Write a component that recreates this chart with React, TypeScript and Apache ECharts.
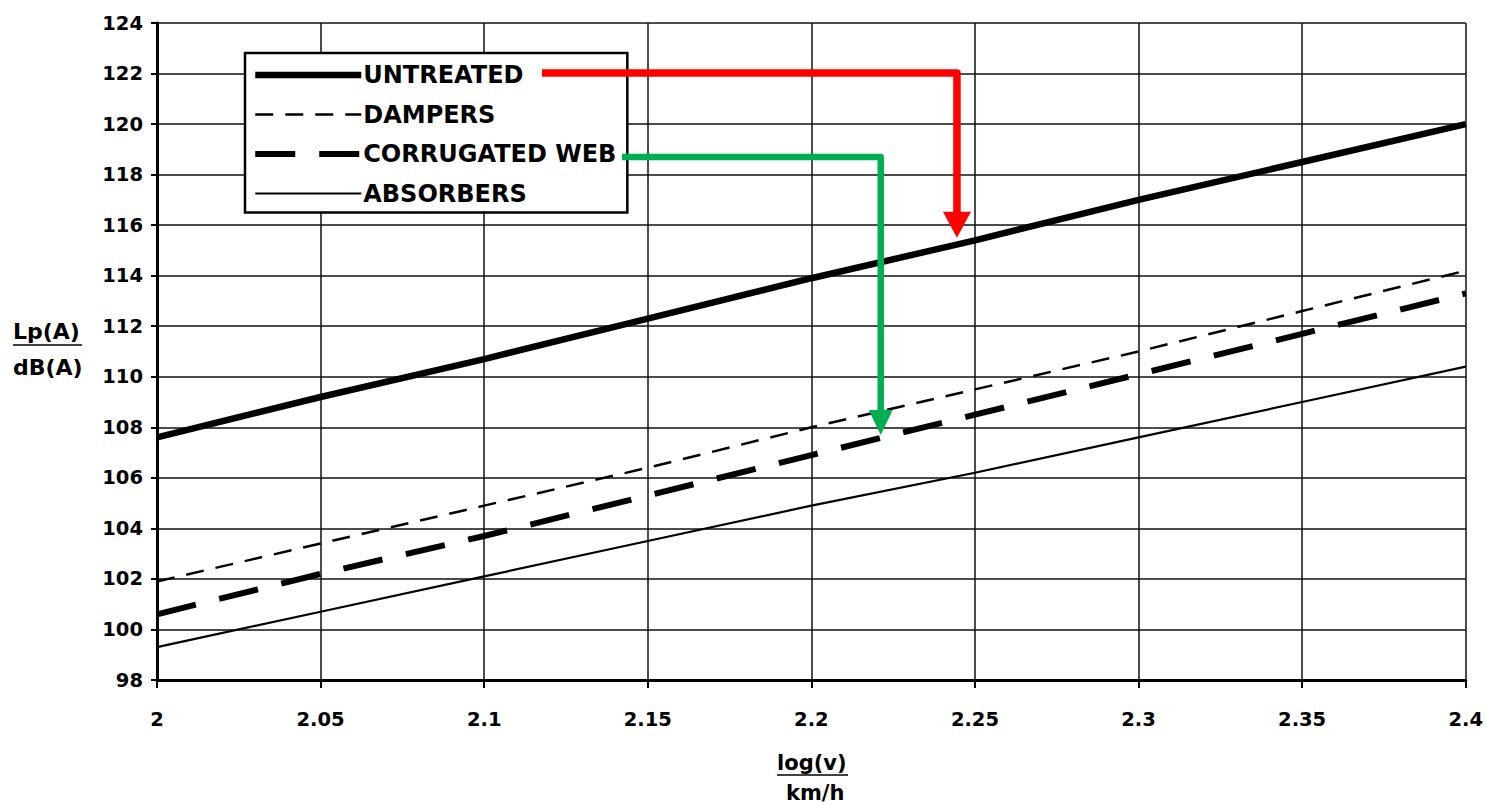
import React, { useEffect, useRef } from "react";
import * as echarts from "echarts";

const X_VALUES = [2, 2.05, 2.1, 2.15, 2.2, 2.25, 2.3, 2.35, 2.4];
const UNTREATED = [107.6, 109.2, 110.7, 112.3, 113.9, 115.4, 117.0, 118.5, 120.0];
const DAMPERS = [101.9, 103.4, 104.9, 106.4, 108.0, 109.5, 111.0, 112.6, 114.2];
const CORRUGATED = [100.6, 102.2, 103.7, 105.3, 106.9, 108.5, 110.1, 111.7, 113.3];
const ABSORBERS = [99.3, 100.7, 102.1, 103.5, 104.9, 106.2, 107.6, 109.0, 110.4];
const SERIES_NAMES = ["UNTREATED", "DAMPERS", "CORRUGATED WEB", "ABSORBERS"];
const RED_TIP = [2.2445, 115.5];
const GREEN_TIP = [2.2212, 107.7];

const FONT = "DejaVu Sans";

const STYLES = [
  { color: "#000", width: 6.5, type: "solid" as any },
  { color: "#000", width: 2.5, type: [18, 12] as any },
  { color: "#000", width: 6, type: [40, 24] as any },
  { color: "#000", width: 2.2, type: "solid" as any },
];

function pairs(ys: number[]) {
  return X_VALUES.map((x, i) => [x, ys[i]]);
}

export default function App() {
  const ref = useRef<HTMLDivElement>(null);
  useEffect(() => {
    if (!ref.current) return;
    const chart = echarts.init(ref.current, undefined, { renderer: "svg" });
    const lineBase = { type: "line", symbol: "none", showSymbol: false, smooth: false, z: 3, color: "#000" };
    chart.setOption({
      animation: false,
      backgroundColor: "#fff",
      grid: { left: 157, right: 18, top: 23, bottom: 125, containLabel: false },
      legend: {
        orient: "vertical",
        left: 245,
        top: 53,
        padding: [10, 11, 7, 7],
        itemWidth: 106,
        itemHeight: 14,
        itemGap: 15.5,
        backgroundColor: "#fff",
        borderColor: "#000",
        borderWidth: 2.5,
        selectedMode: false,
        itemStyle: { opacity: 0 },
        textStyle: { fontFamily: FONT, fontWeight: "bold", fontSize: 24, color: "#000", padding: [0, 0, 0, -3] },
        data: SERIES_NAMES.map((name, i) => ({
          name,
          itemStyle: { opacity: 0 },
          lineStyle: { color: "#000", width: STYLES[i].width, type: STYLES[i].type, opacity: 1 },
        })),
      },
      xAxis: {
        type: "value",
        min: 2,
        max: 2.4,
        interval: 0.05,
        axisLine: { show: true, onZero: false, lineStyle: { color: "#000", width: 3 } },
        axisTick: { show: true, length: 8, lineStyle: { color: "#000", width: 2 } },
        axisLabel: {
          margin: 29,
          fontFamily: FONT,
          fontWeight: "bold",
          fontSize: 19.5,
          color: "#000",
          formatter: (v: number) => String(+v.toFixed(2)),
        },
        splitLine: { show: true, lineStyle: { color: "#111", width: 1.5 } },
      },
      yAxis: {
        type: "value",
        min: 98,
        max: 124,
        interval: 2,
        axisLine: { show: true, onZero: false, lineStyle: { color: "#000", width: 3 } },
        axisTick: { show: true, length: 6, lineStyle: { color: "#000", width: 2 } },
        axisLabel: { margin: 14, fontFamily: FONT, fontWeight: "bold", fontSize: 19.5, color: "#000" },
        splitLine: { show: true, lineStyle: { color: "#111", width: 1.5 } },
      },
      series: [
        { ...lineBase, name: SERIES_NAMES[0], data: pairs(UNTREATED), lineStyle: STYLES[0] },
        { ...lineBase, name: SERIES_NAMES[1], data: pairs(DAMPERS), lineStyle: STYLES[1] },
        { ...lineBase, name: SERIES_NAMES[2], data: pairs(CORRUGATED), lineStyle: STYLES[2] },
        { ...lineBase, name: SERIES_NAMES[3], data: pairs(ABSORBERS), lineStyle: STYLES[3] },
      ],
    });

    const r = chart.convertToPixel({ gridIndex: 0 }, RED_TIP) as number[];
    const g = chart.convertToPixel({ gridIndex: 0 }, GREEN_TIP) as number[];
    const redY = 73;
    const greenY = 157;
    const redHead = 26;
    const greenHead = 25;
    chart.setOption({
      graphic: [
        {
          type: "polyline",
          z: 100,
          shape: { points: [[542, redY], [r[0], redY], [r[0], r[1] - redHead + 2]] },
          style: { stroke: "#ff0000", lineWidth: 7.5, fill: null, lineJoin: "round" },
        },
        {
          type: "polygon",
          z: 100,
          shape: { points: [[r[0] - 14, r[1] - redHead], [r[0] + 14, r[1] - redHead], [r[0], r[1]]] },
          style: { fill: "#ff0000" },
        },
        {
          type: "polyline",
          z: 100,
          shape: { points: [[622, greenY], [g[0], greenY], [g[0], g[1] - greenHead + 2]] },
          style: { stroke: "#00b050", lineWidth: 6.5, fill: null, lineJoin: "round" },
        },
        {
          type: "polygon",
          z: 100,
          shape: { points: [[g[0] - 12, g[1] - greenHead], [g[0] + 12, g[1] - greenHead], [g[0], g[1]]] },
          style: { fill: "#00b050" },
        },
        {
          type: "text",
          left: 13,
          top: 320,
          style: { text: "Lp(A)", font: `bold 22px "${FONT}"`, fill: "#000" },
        },
        { type: "line", shape: { x1: 13, y1: 345, x2: 82, y2: 345 }, style: { stroke: "#000", lineWidth: 1.5 } },
        {
          type: "text",
          left: 13,
          top: 356,
          style: { text: "dB(A)", font: `bold 22px "${FONT}"`, fill: "#000" },
        },
        {
          type: "text",
          left: 777,
          top: 752,
          style: { text: "log(v)", font: `bold 21px "${FONT}"`, fill: "#000" },
        },
        { type: "line", shape: { x1: 777, y1: 775, x2: 848, y2: 775 }, style: { stroke: "#000", lineWidth: 1.5 } },
        {
          type: "text",
          left: 786,
          top: 782,
          style: { text: "km/h", font: `bold 21px "${FONT}"`, fill: "#000" },
        },
      ],
    });

    return () => chart.dispose();
  }, []);
  return <div ref={ref} style={{ position: "absolute", left: 0, top: 0, width: 1486, height: 805 }} />;
}
